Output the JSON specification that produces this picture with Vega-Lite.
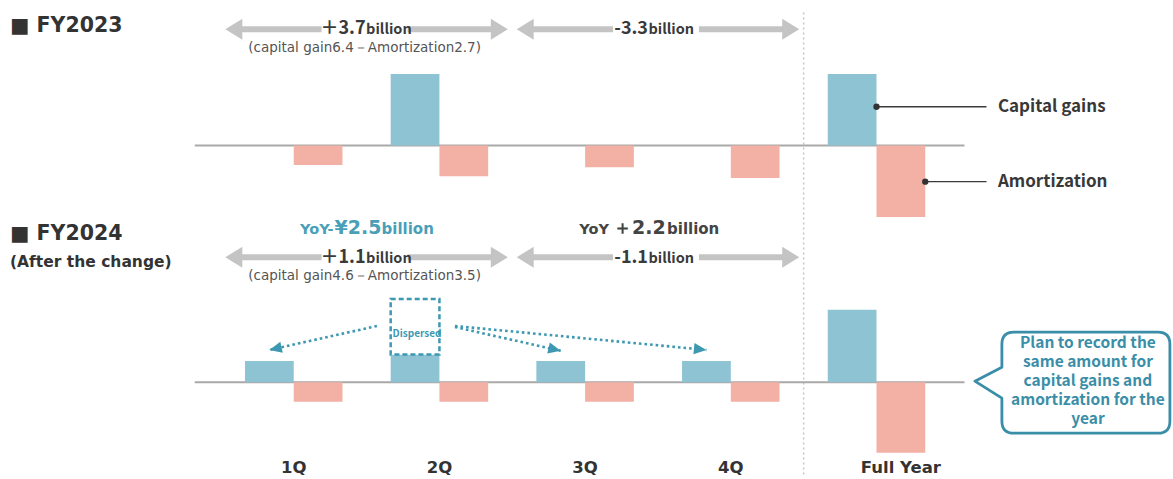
{
  "$schema": "https://vega.github.io/schema/vega-lite/v6.json",
  "width": 1173,
  "height": 479,
  "autosize": {"type": "none"},
  "padding": 0,
  "background": "#ffffff",
  "config": {"view": {"stroke": null}},
  "datasets": {
    "bars23": [
      {"q": "1Q", "series": "Amortization", "v": -1.75},
      {"q": "2Q", "series": "Capital gains", "v": 6.4},
      {"q": "2Q", "series": "Amortization", "v": -2.75},
      {"q": "3Q", "series": "Amortization", "v": -1.95},
      {"q": "4Q", "series": "Amortization", "v": -2.9},
      {"q": "Full Year", "series": "Capital gains", "v": 6.4},
      {"q": "Full Year", "series": "Amortization", "v": -6.4}
    ],
    "bars24": [
      {"q": "1Q", "series": "Capital gains", "v": 1.9},
      {"q": "1Q", "series": "Amortization", "v": -1.75},
      {"q": "2Q", "series": "Capital gains", "v": 2.5},
      {"q": "2Q", "series": "Amortization", "v": -1.75},
      {"q": "3Q", "series": "Capital gains", "v": 1.9},
      {"q": "3Q", "series": "Amortization", "v": -1.75},
      {"q": "4Q", "series": "Capital gains", "v": 1.9},
      {"q": "4Q", "series": "Amortization", "v": -1.75},
      {"q": "Full Year", "series": "Capital gains", "v": 6.5},
      {"q": "Full Year", "series": "Amortization", "v": -6.3}
    ],
    "ranges23": [
      {"q": "1Q", "q2": "2Q", "v": 10.4, "num": "＋3.7", "note": "(capital gain6.4－Amortization2.7)"},
      {"q": "3Q", "q2": "4Q", "v": 10.4, "num": "-3.3"}
    ],
    "ranges24": [
      {"q": "1Q", "q2": "2Q", "v": 11.2, "num": "＋1.1", "note": "(capital gain4.6－Amortization3.5)"},
      {"q": "3Q", "q2": "4Q", "v": 11.2, "num": "-1.1"}
    ]
  },
  "encoding": {
    "x": {
      "field": "q",
      "type": "nominal",
      "axis": null,
      "scale": {
        "domain": ["1Q", "2Q", "3Q", "4Q", "Full Year"],
        "range": [195, 965],
        "paddingInner": 0.3308,
        "paddingOuter": 0.308,
        "align": 0.557,
        "round": false
      }
    }
  },
  "layer": [
    {
      "encoding": {
        "y": {"field": "v", "type": "quantitative", "stack": null, "axis": null,
              "scale": {"domain": [-29.857, 13.026], "nice": false, "zero": false}}
      },
      "layer": [
        {
          "data": {"values": [{"q": "Full Year", "v": 11.9, "v2": -29.6}]},
          "mark": {"type": "rule", "xOffset": -72.85, "color": "#c6c6c6", "strokeWidth": 1.5, "strokeDash": [2, 3]},
          "encoding": {"y2": {"field": "v2"}}
        },
        {
          "data": {"values": [{"q": "1Q", "q2": "Full Year", "v": 0}]},
          "mark": {"type": "rule", "xOffset": -99, "x2Offset": 88, "color": "#a9a9a9", "strokeWidth": 2},
          "encoding": {"x2": {"field": "q2"}}
        },
        {
          "data": {"name": "bars23"},
          "mark": {"type": "bar"},
          "encoding": {
            "xOffset": {"field": "series", "type": "nominal",
                        "scale": {"domain": ["Capital gains", "Amortization"], "paddingInner": 0, "paddingOuter": 0}},
            "color": {"field": "series", "type": "nominal", "legend": null,
                      "scale": {"domain": ["Capital gains", "Amortization"], "range": ["#8ec3d3", "#f3b1a6"]}}
          }
        },
        {
          "data": {"values": [{"q": "Full Year", "v": 3.47}]},
          "mark": {"type": "rule", "x2Offset": 110, "color": "#3a3a3a", "strokeWidth": 1.3},
          "encoding": {"x2": {"field": "q"}}
        },
        {
          "data": {"values": [{"q": "Full Year", "v": -3.24}]},
          "mark": {"type": "rule", "xOffset": 48.75, "x2Offset": 110, "color": "#3a3a3a", "strokeWidth": 1.3},
          "encoding": {"x2": {"field": "q"}}
        },
        {
          "data": {"values": [{"q": "Full Year", "v": 3.47}]},
          "mark": {"type": "point", "shape": "circle", "size": 40, "filled": true, "opacity": 1, "color": "#333333"}
        },
        {
          "data": {"values": [{"q": "Full Year", "v": -3.24}]},
          "mark": {"type": "point", "shape": "circle", "size": 40, "filled": true, "opacity": 1, "color": "#333333", "xOffset": 48.75}
        },
        {
          "data": {"values": [
            {"q": "Full Year", "v": 3.47, "t": "Capital gains"},
            {"q": "Full Year", "v": -3.24, "t": "Amortization"}
          ]},
          "mark": {"type": "text", "dx": 121.4, "align": "left", "baseline": "middle",
                   "font": "Noto Sans CJK JP", "fontWeight": "bold", "fontSize": 17, "color": "#383838"},
          "encoding": {"text": {"field": "t"}}
        },
        {
          "data": {"name": "ranges23"},
          "mark": {"type": "rule", "xOffset": -60.4, "x2Offset": 27.85, "color": "#c4c4c4", "strokeWidth": 6},
          "encoding": {"x2": {"field": "q"}}
        },
        {
          "data": {"name": "ranges23"},
          "mark": {"type": "rule", "xOffset": -31.85, "x2Offset": 60.4, "color": "#c4c4c4", "strokeWidth": 6},
          "encoding": {"x": {"field": "q2", "type": "nominal", "axis": null}, "x2": {"field": "q2"}}
        },
        {
          "data": {"name": "ranges23"},
          "mark": {"type": "point", "shape": "M0,0L0.85,-0.525L0.85,0.525Z", "size": 1600, "filled": true,
                   "opacity": 1, "color": "#c4c4c4", "strokeWidth": 0, "xOffset": -68.4}
        },
        {
          "data": {"name": "ranges23"},
          "mark": {"type": "point", "shape": "M0,0L-0.85,-0.525L-0.85,0.525Z", "size": 1600, "filled": true,
                   "opacity": 1, "color": "#c4c4c4", "strokeWidth": 0, "xOffset": 68.4},
          "encoding": {"x": {"field": "q2", "type": "nominal", "axis": null}}
        },
        {
          "data": {"name": "ranges23"},
          "transform": [{"filter": "datum.q == '1Q'"}],
          "mark": {"type": "text", "dx": 71.85, "dy": 5, "align": "right", "baseline": "alphabetic",
                   "font": "Noto Sans CJK JP", "fontWeight": "bold", "fontSize": 18, "color": "#3a3a3a"},
          "encoding": {"text": {"field": "num"}}
        },
        {
          "data": {"name": "ranges23"},
          "transform": [{"filter": "datum.q == '1Q'"}],
          "mark": {"type": "text", "text": "billion", "dx": 72.35, "dy": 5, "align": "left", "baseline": "alphabetic",
                   "font": "Noto Sans CJK JP", "fontWeight": "bold", "fontSize": 14.5, "color": "#3a3a3a"}
        },
        {
          "data": {"name": "ranges23"},
          "transform": [{"filter": "datum.q == '3Q'"}],
          "mark": {"type": "text", "dx": 62.85, "dy": 5, "align": "right", "baseline": "alphabetic",
                   "font": "Noto Sans CJK JP", "fontWeight": "bold", "fontSize": 18, "color": "#3a3a3a"},
          "encoding": {"text": {"field": "num"}}
        },
        {
          "data": {"name": "ranges23"},
          "transform": [{"filter": "datum.q == '3Q'"}],
          "mark": {"type": "text", "text": "billion", "dx": 63.35, "dy": 5, "align": "left", "baseline": "alphabetic",
                   "font": "Noto Sans CJK JP", "fontWeight": "bold", "fontSize": 14.5, "color": "#3a3a3a"}
        },
        {
          "data": {"name": "ranges23"},
          "transform": [{"filter": "isValid(datum.note)"}],
          "mark": {"type": "text", "dx": 70.85, "dy": 19, "align": "center", "baseline": "middle",
                   "font": "DejaVu Sans", "fontSize": 13.5, "color": "#555555"},
          "encoding": {"text": {"field": "note"}}
        },
        {
          "data": {"values": [{"q": "1Q", "v": 10.67}]},
          "mark": {"type": "text", "text": "■ FY2023", "dx": -283.7, "align": "left", "baseline": "middle",
                   "font": "DejaVu Sans", "fontWeight": "bold", "fontSize": 20.5, "color": "#333333"}
        }
      ]
    },
    {
      "encoding": {
        "y": {"field": "v", "type": "quantitative", "stack": null, "axis": null,
              "scale": {"domain": [-8.657, 34.226], "nice": false, "zero": false}}
      },
      "layer": [
        {
          "data": {"values": [{"q": "1Q", "q2": "Full Year", "v": 0}]},
          "mark": {"type": "rule", "xOffset": -99, "x2Offset": 88, "color": "#a9a9a9", "strokeWidth": 2},
          "encoding": {"x2": {"field": "q2"}}
        },
        {
          "data": {"name": "bars24"},
          "mark": {"type": "bar"},
          "encoding": {
            "xOffset": {"field": "series", "type": "nominal",
                        "scale": {"domain": ["Capital gains", "Amortization"], "paddingInner": 0, "paddingOuter": 0}},
            "color": {"field": "series", "type": "nominal", "legend": null,
                      "scale": {"domain": ["Capital gains", "Amortization"], "range": ["#8ec3d3", "#f3b1a6"]}}
          }
        },
        {
          "data": {"values": [{"q": "2Q", "q2": "1Q", "v": 5.04, "v2": 2.9}]},
          "mark": {"type": "rule", "xOffset": -62.5, "x2Offset": -24.4, "color": "#3d98b2", "strokeWidth": 2.6, "strokeDash": [2.6, 3]},
          "encoding": {"x2": {"field": "q2"}, "y2": {"field": "v2"}}
        },
        {
          "data": {"values": [
            {"q": "2Q", "q2": "3Q", "v": 4.95, "v2": 2.82},
            {"q": "2Q", "q2": "4Q", "v": 5.04, "v2": 2.9}
          ]},
          "mark": {"type": "rule", "xOffset": 15.5, "x2Offset": -24.4, "color": "#3d98b2", "strokeWidth": 2.6, "strokeDash": [2.6, 3]},
          "encoding": {"x2": {"field": "q2"}, "y2": {"field": "v2"}}
        },
        {
          "data": {"values": [{"q": "2Q", "series": "Capital gains", "v": 7.45, "v2": 2.5}]},
          "mark": {"type": "bar", "fill": "#ffffff", "stroke": "#3d98b2", "strokeWidth": 2.5, "strokeDash": [5, 3]},
          "encoding": {
            "xOffset": {"field": "series", "type": "nominal",
                        "scale": {"domain": ["Capital gains", "Amortization"], "paddingInner": 0, "paddingOuter": 0}},
            "y2": {"field": "v2"}
          }
        },
        {
          "data": {"values": [{"q": "2Q", "series": "Capital gains", "v": 4.36}]},
          "mark": {"type": "text", "text": "Dispersed", "dx": 2, "align": "center", "baseline": "middle",
                   "font": "Noto Sans CJK JP", "fontWeight": "bold", "fontSize": 10, "color": "#3d98b2"},
          "encoding": {
            "xOffset": {"field": "series", "type": "nominal",
                        "scale": {"domain": ["Capital gains", "Amortization"], "paddingInner": 0, "paddingOuter": 0}}
          }
        },
        {
          "data": {"values": [{"q": "1Q", "v": 2.9}]},
          "mark": {"type": "point", "shape": "M0,0L-1,-0.45L-1,0.45Z", "size": 625, "angle": 167.5, "filled": true,
                   "opacity": 1, "color": "#3d98b2", "strokeWidth": 0, "xOffset": -24.4}
        },
        {
          "data": {"values": [{"q": "3Q", "v": 2.82}]},
          "mark": {"type": "point", "shape": "M0,0L-1,-0.45L-1,0.45Z", "size": 625, "angle": 13, "filled": true,
                   "opacity": 1, "color": "#3d98b2", "strokeWidth": 0, "xOffset": -24.4}
        },
        {
          "data": {"values": [{"q": "4Q", "v": 2.9}]},
          "mark": {"type": "point", "shape": "M0,0L-1,-0.45L-1,0.45Z", "size": 625, "angle": 5.5, "filled": true,
                   "opacity": 1, "color": "#3d98b2", "strokeWidth": 0, "xOffset": -24.4}
        },
        {
          "data": {"name": "ranges24"},
          "mark": {"type": "rule", "xOffset": -60.4, "x2Offset": 27.85, "color": "#c4c4c4", "strokeWidth": 6},
          "encoding": {"x2": {"field": "q"}}
        },
        {
          "data": {"name": "ranges24"},
          "mark": {"type": "rule", "xOffset": -31.85, "x2Offset": 60.4, "color": "#c4c4c4", "strokeWidth": 6},
          "encoding": {"x": {"field": "q2", "type": "nominal", "axis": null}, "x2": {"field": "q2"}}
        },
        {
          "data": {"name": "ranges24"},
          "mark": {"type": "point", "shape": "M0,0L0.85,-0.525L0.85,0.525Z", "size": 1600, "filled": true,
                   "opacity": 1, "color": "#c4c4c4", "strokeWidth": 0, "xOffset": -68.4}
        },
        {
          "data": {"name": "ranges24"},
          "mark": {"type": "point", "shape": "M0,0L-0.85,-0.525L-0.85,0.525Z", "size": 1600, "filled": true,
                   "opacity": 1, "color": "#c4c4c4", "strokeWidth": 0, "xOffset": 68.4},
          "encoding": {"x": {"field": "q2", "type": "nominal", "axis": null}}
        },
        {
          "data": {"name": "ranges24"},
          "transform": [{"filter": "datum.q == '1Q'"}],
          "mark": {"type": "text", "dx": 71.85, "dy": 5.5, "align": "right", "baseline": "alphabetic",
                   "font": "Noto Sans CJK JP", "fontWeight": "bold", "fontSize": 18, "color": "#3a3a3a"},
          "encoding": {"text": {"field": "num"}}
        },
        {
          "data": {"name": "ranges24"},
          "transform": [{"filter": "datum.q == '1Q'"}],
          "mark": {"type": "text", "text": "billion", "dx": 72.35, "dy": 5.5, "align": "left", "baseline": "alphabetic",
                   "font": "Noto Sans CJK JP", "fontWeight": "bold", "fontSize": 14.5, "color": "#3a3a3a"}
        },
        {
          "data": {"name": "ranges24"},
          "transform": [{"filter": "datum.q == '3Q'"}],
          "mark": {"type": "text", "dx": 62.85, "dy": 5.5, "align": "right", "baseline": "alphabetic",
                   "font": "Noto Sans CJK JP", "fontWeight": "bold", "fontSize": 18, "color": "#3a3a3a"},
          "encoding": {"text": {"field": "num"}}
        },
        {
          "data": {"name": "ranges24"},
          "transform": [{"filter": "datum.q == '3Q'"}],
          "mark": {"type": "text", "text": "billion", "dx": 63.35, "dy": 5.5, "align": "left", "baseline": "alphabetic",
                   "font": "Noto Sans CJK JP", "fontWeight": "bold", "fontSize": 14.5, "color": "#3a3a3a"}
        },
        {
          "data": {"name": "ranges24"},
          "transform": [{"filter": "isValid(datum.note)"}],
          "mark": {"type": "text", "dx": 70.85, "dy": 18.5, "align": "center", "baseline": "middle",
                   "font": "DejaVu Sans", "fontSize": 13.5, "color": "#555555"},
          "encoding": {"text": {"field": "note"}}
        },
        {
          "data": {"values": [{"q": "1Q", "v": 13.79}]},
          "mark": {"type": "text", "text": "YoY-", "dx": 39.8, "dy": 6, "align": "right", "baseline": "alphabetic",
                   "font": "DejaVu Sans", "fontWeight": "bold", "fontSize": 14.5, "color": "#4a9fb7"}
        },
        {
          "data": {"values": [{"q": "1Q", "v": 13.79}]},
          "mark": {"type": "text", "text": "¥2.5", "dx": 40.8, "dy": 6, "align": "left", "baseline": "alphabetic",
                   "font": "DejaVu Sans", "fontWeight": "bold", "fontSize": 19, "color": "#4a9fb7"}
        },
        {
          "data": {"values": [{"q": "1Q", "v": 13.79}]},
          "mark": {"type": "text", "text": "billion", "dx": 87.8, "dy": 6, "align": "left", "baseline": "alphabetic",
                   "font": "DejaVu Sans", "fontWeight": "bold", "fontSize": 15, "color": "#4a9fb7"}
        },
        {
          "data": {"values": [{"q": "3Q", "v": 13.79}]},
          "mark": {"type": "text", "text": "YoY", "dx": 23.9, "dy": 6, "align": "right", "baseline": "alphabetic",
                   "font": "DejaVu Sans", "fontWeight": "bold", "fontSize": 14.5, "color": "#444444"}
        },
        {
          "data": {"values": [{"q": "3Q", "v": 13.79}]},
          "mark": {"type": "text", "text": "＋2.2", "dx": 27.9, "dy": 6, "align": "left", "baseline": "alphabetic",
                   "font": "DejaVu Sans", "fontWeight": "bold", "fontSize": 19, "color": "#444444"}
        },
        {
          "data": {"values": [{"q": "3Q", "v": 13.79}]},
          "mark": {"type": "text", "text": "billion", "dx": 81.9, "dy": 6, "align": "left", "baseline": "alphabetic",
                   "font": "DejaVu Sans", "fontWeight": "bold", "fontSize": 15, "color": "#444444"}
        },
        {
          "data": {"values": [{"q": "1Q", "v": 13.3}]},
          "mark": {"type": "text", "text": "■ FY2024", "dx": -283.7, "align": "left", "baseline": "middle",
                   "font": "DejaVu Sans", "fontWeight": "bold", "fontSize": 20.5, "color": "#333333"}
        },
        {
          "data": {"values": [{"q": "1Q", "v": 10.77}]},
          "mark": {"type": "text", "text": "(After the change)", "dx": -283.7, "align": "left", "baseline": "middle",
                   "font": "DejaVu Sans", "fontWeight": "bold", "fontSize": 15.5, "color": "#333333"}
        },
        {
          "data": {"values": [{"q": "Full Year", "v": 0.1}]},
          "mark": {"type": "point",
                   "shape": "M0.27,-0.14L0.27,-0.37Q0.27,-0.49 0.39,-0.49L1.83,-0.49Q1.95,-0.49 1.95,-0.37L1.95,0.4Q1.95,0.52 1.83,0.52L0.39,0.52Q0.27,0.52 0.27,0.4L0.27,0.17L0,0Z",
                   "size": 40000, "filled": true, "opacity": 1, "fill": "#ffffff", "stroke": "#3b8ea8",
                   "strokeWidth": 2.8, "strokeJoin": "round", "xOffset": 98.4}
        },
        {
          "data": {"values": [{"q": "Full Year", "v": 3.49}]},
          "mark": {"type": "text",
                   "text": ["Plan to record the", "same amount for", "capital gains and", "amortization for the", "year"],
                   "dx": 211.4, "align": "center", "baseline": "middle", "lineHeight": 19,
                   "font": "Noto Sans CJK JP", "fontWeight": "bold", "fontSize": 15.5, "color": "#3b8ea8"}
        },
        {
          "data": {"values": [{"q": "1Q", "v": -7.67}, {"q": "2Q", "v": -7.67}, {"q": "3Q", "v": -7.67}, {"q": "4Q", "v": -7.67}]},
          "mark": {"type": "text", "align": "center", "baseline": "middle",
                   "font": "DejaVu Sans", "fontWeight": "bold", "fontSize": 16.5, "color": "#333333"},
          "encoding": {"text": {"field": "q"}}
        },
        {
          "data": {"values": [{"q": "Full Year", "v": -7.67}]},
          "mark": {"type": "text", "dx": 24.4, "align": "center", "baseline": "middle",
                   "font": "DejaVu Sans", "fontWeight": "bold", "fontSize": 16.5, "color": "#333333"},
          "encoding": {"text": {"field": "q"}}
        }
      ]
    }
  ],
  "resolve": {"scale": {"y": "independent"}}
}
